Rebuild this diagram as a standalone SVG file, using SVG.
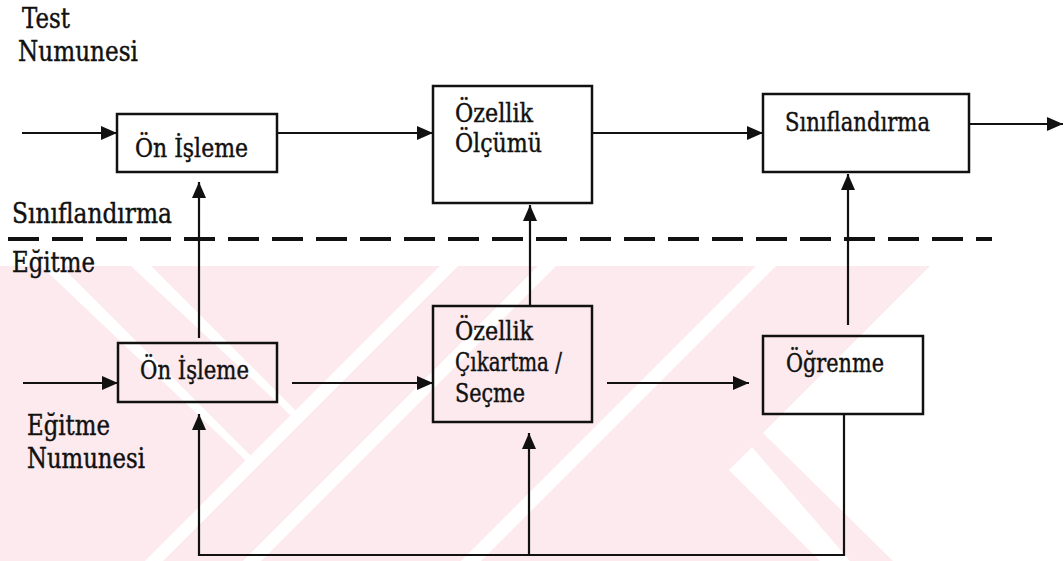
<svg xmlns="http://www.w3.org/2000/svg" width="1064" height="561" viewBox="0 0 1064 561">
  <style>
    text { fill: #111; stroke: #111; stroke-width: 0.45; font-family: 'DejaVu Serif', serif; }
    .lbl { font-size: 27px; }
    .btx { font-size: 26px; }
    .box { fill: none; stroke: #111; stroke-width: 2.5; }
    .wire { fill: none; stroke: #111; stroke-width: 2.2; }
    .split { fill: none; stroke: #111; stroke-width: 4; stroke-dasharray: 31 13; }
    .wm { fill: #fdeaee; }
    .wmgap { fill: #ffffff; }
  </style>
  <defs>
    <marker id="head" markerUnits="userSpaceOnUse" markerWidth="16" markerHeight="14" refX="16" refY="7" orient="auto">
      <path d="M0,0 L16,7 L0,14 Z" fill="#111"/>
    </marker>
  </defs>

  <rect width="1064" height="561" fill="#ffffff"/>

  <!-- faint background emblem -->
  <g id="emblem">
    <polygon class="wm" points="0,266 930,266 763,433 893,561 0,561"/>
    <polygon class="wmgap" points="440,266 458,266 163,561 145,561"/>
    <polygon class="wmgap" points="538,266 556,266 261,561 243,561"/>
    <polygon class="wmgap" points="756,266 776,266 481,561 461,561"/>
    <polygon class="wmgap" points="41,266 61,266 255,460 245,460 235,450"/>
    <polygon class="wmgap" points="131,266 151,266 300,415 290,415 280,405"/>
    <polygon class="wmgap" points="739,460 752,447 850,561 820,561 729,470"/>
  </g>

  <!-- free labels -->
  <g id="label-test">
    <text class="lbl" x="22" y="28" textLength="48" lengthAdjust="spacingAndGlyphs">Test</text>
    <text class="lbl" x="18" y="61" textLength="120" lengthAdjust="spacingAndGlyphs">Numunesi</text>
  </g>
  <g id="label-classify">
    <text class="lbl" x="12" y="223" textLength="160" lengthAdjust="spacingAndGlyphs">Sınıflandırma</text>
  </g>
  <g id="label-train">
    <text class="lbl" x="12" y="272" textLength="83" lengthAdjust="spacingAndGlyphs">Eğitme</text>
  </g>
  <g id="label-train-sample">
    <text class="lbl" x="27" y="435" textLength="83" lengthAdjust="spacingAndGlyphs">Eğitme</text>
    <text class="lbl" x="27" y="468" textLength="118" lengthAdjust="spacingAndGlyphs">Numunesi</text>
  </g>

  <!-- classification stage -->
  <g id="pre-test">
    <rect class="box" x="117" y="114" width="160" height="58"/>
    <text class="btx" x="135" y="157" textLength="113" lengthAdjust="spacingAndGlyphs">Ön İşleme</text>
  </g>
  <g id="measure">
    <rect class="box" x="433" y="86" width="159" height="117"/>
    <text class="btx" x="455" y="122" textLength="78" lengthAdjust="spacingAndGlyphs">Özellik</text>
    <text class="btx" x="455" y="152" textLength="87" lengthAdjust="spacingAndGlyphs">Ölçümü</text>
  </g>
  <g id="classify">
    <rect class="box" x="763" y="94" width="206" height="78"/>
    <text class="btx" x="785" y="131" textLength="145" lengthAdjust="spacingAndGlyphs">Sınıflandırma</text>
  </g>

  <!-- training stage -->
  <g id="pre-train">
    <rect class="box" x="118" y="343" width="159" height="59"/>
    <text class="btx" x="140" y="379" textLength="109" lengthAdjust="spacingAndGlyphs">Ön İşleme</text>
  </g>
  <g id="extract">
    <rect class="box" x="433" y="306" width="159" height="116"/>
    <text class="btx" x="455" y="340" textLength="78" lengthAdjust="spacingAndGlyphs">Özellik</text>
    <text class="btx" x="455" y="371" textLength="107" lengthAdjust="spacingAndGlyphs">Çıkartma /</text>
    <text class="btx" x="455" y="402" textLength="70" lengthAdjust="spacingAndGlyphs">Seçme</text>
  </g>
  <g id="learn">
    <rect class="box" x="763" y="336" width="160" height="78"/>
    <text class="btx" x="786" y="372" textLength="98" lengthAdjust="spacingAndGlyphs">Öğrenme</text>
  </g>

  <!-- stage divider -->
  <path class="split" d="M8,239 H992"/>

  <!-- connectors -->
  <g id="connectors">
    <path class="wire" d="M22,133 H117" marker-end="url(#head)"/>
    <path class="wire" d="M277,133 H433" marker-end="url(#head)"/>
    <path class="wire" d="M592,133 H763" marker-end="url(#head)"/>
    <path class="wire" d="M969,124 H1063" marker-end="url(#head)"/>
    <path class="wire" d="M199,338 V182" marker-end="url(#head)"/>
    <path class="wire" d="M530,305 V205" marker-end="url(#head)"/>
    <path class="wire" d="M848,325 V174" marker-end="url(#head)"/>

    <path class="wire" d="M23,383 H118" marker-end="url(#head)"/>
    <path class="wire" d="M292,383 H433" marker-end="url(#head)"/>
    <path class="wire" d="M607,383 H749" marker-end="url(#head)"/>
    <path class="wire" d="M844,414 V555 H199 V414" marker-end="url(#head)"/>
    <path class="wire" d="M529,555 V433" marker-end="url(#head)"/>
  </g>
</svg>
